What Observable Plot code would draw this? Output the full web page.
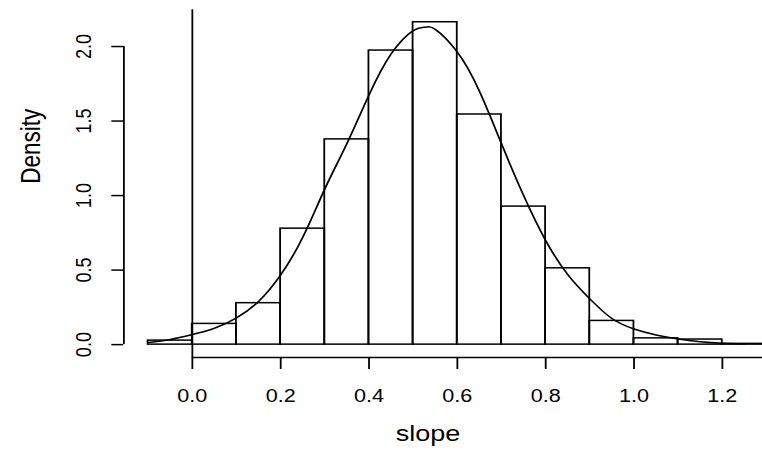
<!DOCTYPE html>
<html><head><meta charset="utf-8">
<script src="https://cdn.jsdelivr.net/npm/d3@7"></script>
<script src="https://cdn.jsdelivr.net/npm/@observablehq/plot@0.6"></script>
<style>
html,body{margin:0;padding:0;background:#fff;overflow:hidden;}
#chart{width:635px;transform:scaleX(1.2);transform-origin:0 0;}
#chart svg{overflow:hidden;}
</style></head><body><div id="chart"></div>
<script>
// histogram breaks and densities (slope)
const breaks = [-0.1, 0.0, 0.1, 0.2, 0.3, 0.4, 0.5, 0.6, 0.7, 0.8, 0.9, 1.0, 1.1, 1.2, 1.3];
const density = [0.027, 0.139, 0.278, 0.778, 1.377, 1.973, 2.163, 1.544, 0.926, 0.512, 0.159, 0.042, 0.034, 0.005];
// density curve
const curveX = [-0.1, -0.05, 0.0, 0.05, 0.1, 0.15, 0.2, 0.25, 0.3, 0.35, 0.4, 0.45, 0.5, 0.528, 0.55, 0.6, 0.65, 0.7, 0.75, 0.8, 0.85, 0.9, 0.95, 1.0, 1.05, 1.1, 1.15, 1.2, 1.25];
const curveY = [0.015, 0.035, 0.068, 0.11, 0.18, 0.29, 0.468, 0.72, 1.045, 1.35, 1.675, 1.95, 2.107, 2.13, 2.115, 1.962, 1.70, 1.347, 1.0, 0.698, 0.47, 0.307, 0.175, 0.105, 0.065, 0.038, 0.02, 0.01, 0.006];
const xTicks = [0.0, 0.2, 0.4, 0.6, 0.8, 1.0, 1.2];
const yTicks = [0.0, 0.5, 1.0, 1.5, 2.0];
const xLabel = "slope";
const yLabel = "Density";
const xLim = [-0.155, 1.2911];
const yLim = [-0.0864, 2.2464];
const xAxisEnd = 1.4;

const bins = density.map((d, i) => ({x1: breaks[i], x2: breaks[i + 1], y: d}));
const curve = curveX.map((x, i) => ({x, y: curveY[i]}));
const fmt = d3.format(".1f");
const sw = 1.5;

const plot = Plot.plot({
  width: 635, height: 455,
  marginLeft: 102.75, marginRight: 0, marginTop: 9.3, marginBottom: 98,
  style: {fontFamily: "'Liberation Sans', Arial, Helvetica, sans-serif", background: "white", color: "black", overflow: "hidden"},
  x: {domain: xLim, label: null},
  y: {domain: yLim, label: null},
  marks: [
    Plot.rect(bins, {x1: "x1", x2: "x2", y1: 0, y2: "y", fill: "none", stroke: "black", strokeWidth: sw}),
    Plot.line(curve, {x: "x", y: "y", curve: "natural", stroke: "black", strokeWidth: sw}),
    Plot.ruleX([0], {y1: yLim[0], y2: yLim[1], stroke: "black", strokeWidth: sw}),
    Plot.ruleX([xLim[0]], {y1: yTicks[0], y2: yTicks[yTicks.length - 1], stroke: "black", strokeWidth: sw}),
    Plot.ruleY([yLim[0]], {x1: xTicks[0], x2: xAxisEnd, stroke: "black", strokeWidth: sw}),
    Plot.axisX({ticks: xTicks, tickSize: 12, tickPadding: 20, fontSize: 18, tickFormat: fmt, label: null, strokeWidth: sw}),
    Plot.axisY({ticks: yTicks, tickSize: 10, tickRotate: -90, lineAnchor: "middle", textAnchor: "middle", tickPadding: 23.4, fontSize: 18, tickFormat: fmt, label: null, strokeWidth: sw}),
    Plot.text([xLabel], {text: d => d, frameAnchor: "bottom", dx: -12.6, dy: 83.8, fontSize: 22.5}),
    Plot.text([yLabel], {text: d => d, frameAnchor: "left", dx: -77, rotate: -90, fontSize: 22.5})
  ]
});
document.getElementById("chart").appendChild(plot);
</script></body></html>
